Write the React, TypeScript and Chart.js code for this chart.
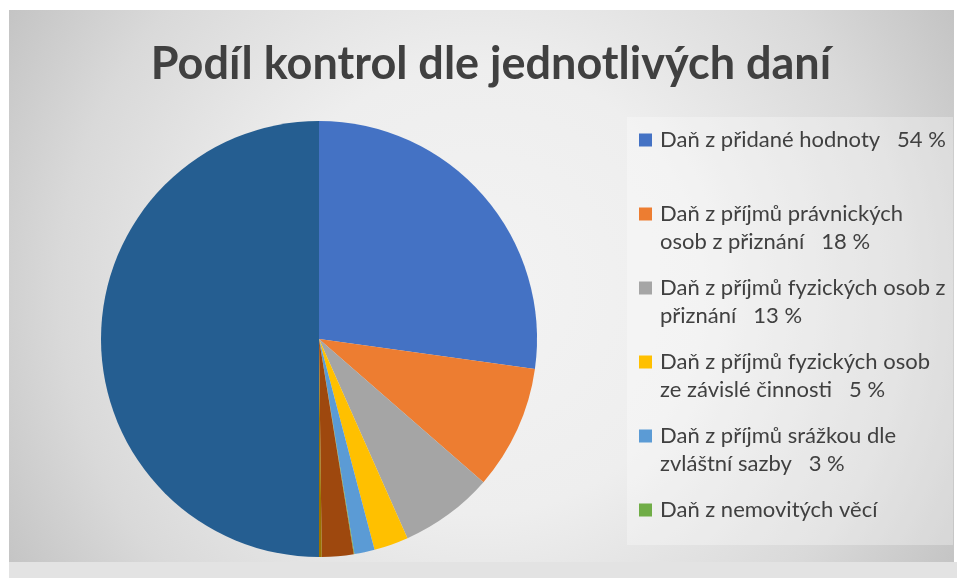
import React, { useEffect, useRef } from "react";
import { Chart, registerables } from "chart.js";

Chart.register(...registerables);

const chartTitle = "Podíl kontrol dle jednotlivých daní";

const categories = [
  "Daň z přidané hodnoty",
  "Daň z příjmů právnických osob z přiznání",
  "Daň z příjmů fyzických osob z přiznání",
  "Daň z příjmů fyzických osob ze závislé činnosti",
  "Daň z příjmů srážkou dle zvláštní sazby",
  "Daň z nemovitých věcí",
  "Ostatní daně",
  "Ostatní",
  "Celkem",
];

const values = [54.4, 18.4, 13.9, 5.1, 3.0, 0.1, 4.7, 0.4, 100];

const sliceColors = [
  "#4472C4",
  "#ED7D31",
  "#A5A5A5",
  "#FFC000",
  "#5B9BD5",
  "#70AD47",
  "#9E480E",
  "#997300",
  "#255E91",
];

const legendLines: string[][] = [
  ["Daň z přidané hodnoty   54 %"],
  ["Daň z příjmů právnických", "osob z přiznání   18 %"],
  ["Daň z příjmů fyzických osob z", "přiznání   13 %"],
  ["Daň z příjmů fyzických osob", "ze závislé činnosti   5 %"],
  ["Daň z příjmů srážkou dle", "zvláštní sazby   3 %"],
  ["Daň z nemovitých věcí"],
];

const W = 957;
const H = 578;

const decorPlugin = {
  id: "decor",
  beforeDraw(chart: any) {
    const ctx = chart.ctx as CanvasRenderingContext2D;
    ctx.save();
    ctx.fillStyle = "#ffffff";
    ctx.fillRect(0, 0, W, H);
    ctx.fillStyle = "#e3e3e3";
    ctx.fillRect(9, 562, W - 9, H - 562);
    const g = ctx.createRadialGradient(480, 290, 0, 480, 290, 560);
    g.addColorStop(0, "#f3f3f3");
    g.addColorStop(0.4, "#eeeeee");
    g.addColorStop(0.75, "#d9d9d9");
    g.addColorStop(1, "#c2c2c2");
    ctx.fillStyle = g;
    ctx.fillRect(9, 10, 945, 552);
    ctx.fillStyle = "rgba(255,255,255,0.3)";
    ctx.fillRect(627, 117, 326, 428);
    ctx.restore();
  },
  afterDraw(chart: any) {
    const ctx = chart.ctx as CanvasRenderingContext2D;
    ctx.save();
    ctx.fillStyle = "#404040";
    ctx.font = "bold 45px Lato";
    ctx.textAlign = "center";
    ctx.textBaseline = "alphabetic";
    ctx.fillText(chartTitle, 491, 79);

    ctx.font = "22px Lato";
    ctx.textAlign = "left";
    ctx.textBaseline = "middle";
    const bg = chart.data.datasets[0].backgroundColor as string[];
    legendLines.forEach((lines, i) => {
      const y0 = 140 + i * 74;
      ctx.fillStyle = bg[i];
      ctx.fillRect(639, y0 - 6.5, 13, 13);
      ctx.fillStyle = "#404040";
      lines.forEach((t, j) => {
        ctx.fillText(t, 660, y0 + j * 27.5);
      });
    });
    ctx.restore();
  },
};

export default function App() {
  const ref = useRef<HTMLCanvasElement | null>(null);
  useEffect(() => {
    if (!ref.current) return;
    const chart = new Chart(ref.current, {
      type: "pie",
      data: {
        labels: categories,
        datasets: [
          {
            data: values,
            backgroundColor: sliceColors,
            borderWidth: 0,
          },
        ],
      },
      options: {
        responsive: false,
        animation: false,
        layout: { padding: { left: 101, top: 121, right: 420, bottom: 21 } },
        plugins: {
          legend: { display: false },
          title: { display: false },
          tooltip: { enabled: false },
        },
      },
      plugins: [decorPlugin],
    });
    return () => chart.destroy();
  }, []);
  return (
    <div style={{ position: "fixed", left: 0, top: 0, width: W, height: H }}>
      <canvas ref={ref} width={W} height={H} style={{ width: W, height: H, display: "block" }} />
    </div>
  );
}
